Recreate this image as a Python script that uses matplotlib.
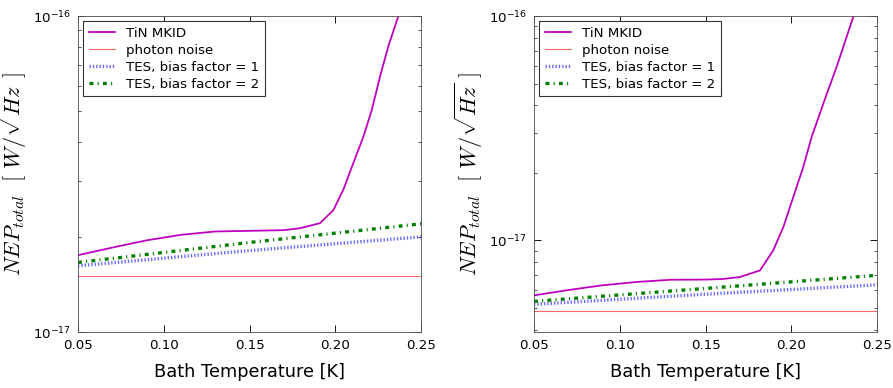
import numpy as np
import matplotlib
matplotlib.use("Agg")
import matplotlib.pyplot as plt
from matplotlib.ticker import NullFormatter

plt.rcParams['mathtext.fontset'] = 'cm'
plt.rcParams['lines.scale_dashes'] = False

# values (NEP in units of 1e-18 W/sqrt(Hz))
# left panel
t_mkid_l = [0.05, 0.07, 0.09, 0.11, 0.13, 0.15, 0.17, 0.1794, 0.1911, 0.1989,
            0.2047, 0.2105, 0.2164, 0.2213, 0.2261, 0.2309, 0.2368, 0.24]
nep_mkid_l = [17.5, 18.5, 19.5, 20.3, 20.8, 20.9, 21.0, 21.3, 22.1, 24.3,
              28.2, 34.2, 41.5, 50.4, 64.3, 80.0, 100.0, 112.0]
t_tes_l = [0.05, 0.15, 0.25]
nep_tes1_l = [16.2, 18.1, 20.0]
nep_tes2_l = [16.6, 19.2, 22.0]
t_phot = [0.05, 0.25]
nep_phot_l = [15.0, 15.0]

# right panel
t_mkid_r = [0.05, 0.07, 0.09, 0.11, 0.13, 0.15, 0.16, 0.1701, 0.1818, 0.1895,
            0.1954, 0.2012, 0.2070, 0.2119, 0.2187, 0.2265, 0.2362, 0.24]
nep_mkid_r = [5.68, 6.0, 6.3, 6.52, 6.67, 6.68, 6.72, 6.86, 7.34, 9.02,
              11.46, 15.6, 21.2, 28.9, 40.7, 59.4, 99.3, 122.0]
t_tes_r = [0.05, 0.15, 0.25]
nep_tes1_r = [5.18, 5.75, 6.33]
nep_tes2_r = [5.34, 6.1, 6.98]
nep_phot_r = [4.82, 4.82]

panels = [
    (t_mkid_l, nep_mkid_l, nep_phot_l, t_tes_l, nep_tes1_l, nep_tes2_l, (1e-17, 1e-16)),
    (t_mkid_r, nep_mkid_r, nep_phot_r, t_tes_r, nep_tes1_r, nep_tes2_r, (3.9e-18, 1e-16)),
]

fig = plt.figure(figsize=(893 / 80, 388 / 80), dpi=80)
boxes = [[78 / 893, 56 / 388, 343 / 893, 316 / 388],
         [534 / 893, 56 / 388, 343 / 893, 316 / 388]]

for box, (tm, nm, nph, tt, n1, n2, ylim) in zip(boxes, panels):
    ax = fig.add_axes(box)
    s = 1e-18
    ax.plot(tm, np.array(nm) * s, color='m', lw=1.6, label='TiN MKID')
    ax.plot(t_phot, np.array(nph) * s, color='r', lw=1.0, alpha=0.6, label='photon noise')
    ax.plot(tt, np.array(n1) * s, color='b', lw=3, ls=(0, (1.2, 1.8)), alpha=0.6,
            label='TES, bias factor = 1')
    ax.plot(tt, np.array(n2) * s, color='g', lw=3, ls=(0, (3.5, 3.8, 1, 3.8)),
            label='TES, bias factor = 2')
    ax.set_yscale('log')
    ax.set_xlim(0.05, 0.25)
    ax.set_ylim(*ylim)
    ax.yaxis.set_minor_formatter(NullFormatter())
    ax.set_xticks([0.05, 0.10, 0.15, 0.20, 0.25])
    ax.set_xticklabels(['0.05', '0.10', '0.15', '0.20', '0.25'])
    ax.tick_params(which='both', direction='in', top=True, right=True, labelsize=12)
    ax.tick_params(which='major', length=6, pad=6)
    ax.tick_params(which='minor', length=3)
    for sp in ax.spines.values():
        sp.set_color('#555555')
    ax.set_xlabel('Bath Temperature [K]', fontsize=16, labelpad=10)
    ax.set_ylabel(r'$NEP_{total}\ \ [\ W/\sqrt{Hz}\ ]$', fontsize=20)
    leg = ax.legend(loc='upper left', fontsize=12, fancybox=False, framealpha=1,
                    borderaxespad=0.4, handlelength=2.0, labelspacing=0.3)
    leg.get_frame().set_edgecolor('#333333')

fig.savefig('out.png', dpi=80)
